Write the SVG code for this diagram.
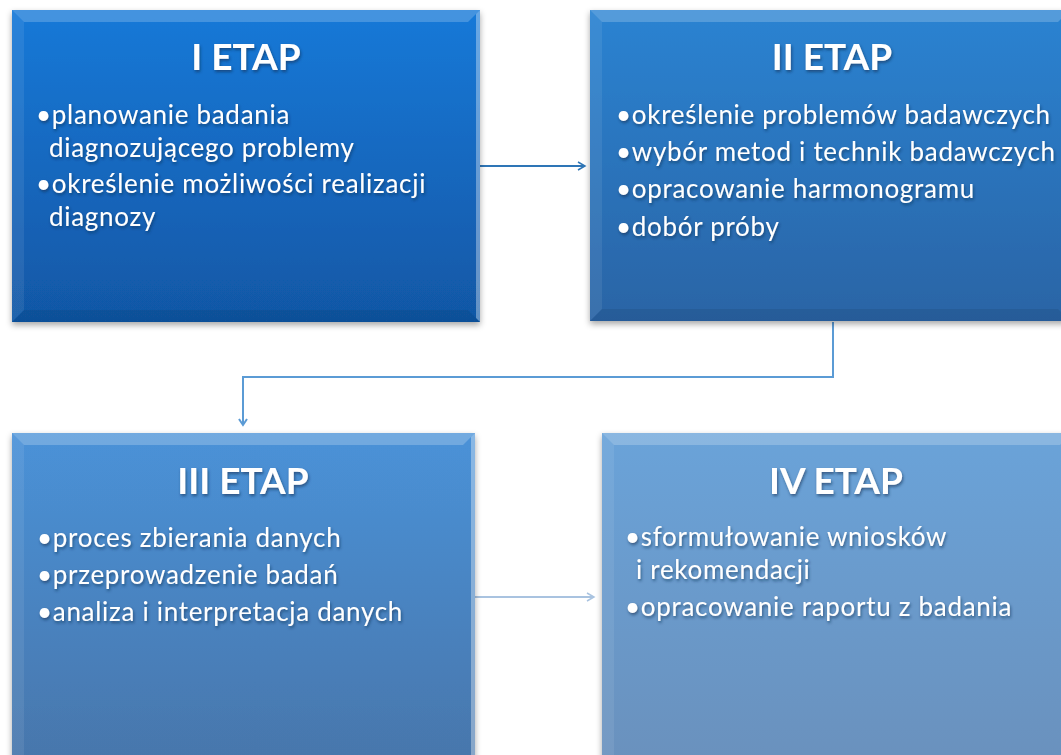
<svg xmlns="http://www.w3.org/2000/svg" width="1061" height="755" viewBox="0 0 1061 755">
<style>
.t{font-family:Lato,"Open Sans","Liberation Sans",sans-serif;fill:#fff;}
.h{font-size:37px;font-weight:bold;text-anchor:middle;}
.i{font-size:26px;letter-spacing:0.7px;}
.c{fill:none;stroke-width:2;}
</style>
<defs>
<linearGradient id="g1" x1="0" y1="0" x2="0" y2="1"><stop offset="0" stop-color="#1879D8"/><stop offset="1" stop-color="#1157A5"/></linearGradient>
<linearGradient id="g2" x1="0" y1="0" x2="0" y2="1"><stop offset="0" stop-color="#2C83D2"/><stop offset="1" stop-color="#2A64A5"/></linearGradient>
<linearGradient id="g3" x1="0" y1="0" x2="0" y2="1"><stop offset="0" stop-color="#4B92D8"/><stop offset="1" stop-color="#4776AB"/></linearGradient>
<linearGradient id="g4" x1="0" y1="0" x2="0" y2="1"><stop offset="0" stop-color="#6BA3D9"/><stop offset="1" stop-color="#6A91BD"/></linearGradient>
<filter id="sh" x="-5%" y="-5%" width="110%" height="115%"><feDropShadow dx="0" dy="3" stdDeviation="3" flood-color="#000" flood-opacity="0.35"/></filter>
<filter id="ts" x="-5%" y="-20%" width="110%" height="150%"><feDropShadow dx="1" dy="2" stdDeviation="1.5" flood-color="#0a2a50" flood-opacity="0.6"/></filter>
<marker id="a1" markerWidth="10" markerHeight="10" refX="8" refY="5" orient="auto" markerUnits="userSpaceOnUse"><path d="M1,1 L8,5 L1,9" fill="none" stroke="#2E75B6" stroke-width="1.5"/></marker>
<marker id="a2" markerWidth="12" markerHeight="12" refX="6" refY="10" orient="0" markerUnits="userSpaceOnUse"><path d="M2,4 L6,10 L10,4" fill="none" stroke="#5B9BD5" stroke-width="2"/></marker>
<marker id="a3" markerWidth="10" markerHeight="10" refX="8" refY="5" orient="auto" markerUnits="userSpaceOnUse"><path d="M1,1 L8,5 L1,9" fill="none" stroke="#A9C3E0" stroke-width="1.5"/></marker>
</defs>
<rect width="1061" height="755" fill="#fff"/>

<g id="connectors">
<line class="c" x1="480" y1="166" x2="585" y2="166" stroke="#2E75B6" marker-end="url(#a1)"/>
<polyline class="c" points="833,322 833,377 243,377 243,425" stroke="#5B9BD5" marker-end="url(#a2)"/>
<line class="c" x1="475" y1="597" x2="594" y2="597" stroke="#A9C3E0" marker-end="url(#a3)"/>
</g>

<g id="node1">
<rect x="12" y="10" width="468" height="312" fill="url(#g1)" filter="url(#sh)"/>
<polygon points="12,10 480,10 468,22 24,22" fill="#fff" opacity="0.2"/>
<polygon points="12,10 24,22 24,310 12,322" fill="#fff" opacity="0.08"/>
<polygon points="480,10 480,322 476,318 476,14" fill="#fff" opacity="0.35"/>
<polygon points="12,322 480,322 468,310 24,310" fill="#000" opacity="0.08"/>
<g class="t" filter="url(#ts)">
<text class="h" x="246" y="70">I ETAP</text>
<text class="i" x="36" y="124">•planowanie badania</text>
<text class="i" x="49" y="157">diagnozującego problemy</text>
<text class="i" x="36" y="193">•określenie możliwości realizacji</text>
<text class="i" x="49" y="226">diagnozy</text>
</g>
</g>

<g id="node2">
<rect x="590" y="10" width="480" height="311" fill="url(#g2)" filter="url(#sh)"/>
<polygon points="590,10 1070,10 1058,22 602,22" fill="#fff" opacity="0.2"/>
<polygon points="590,10 602,22 602,309 590,321" fill="#fff" opacity="0.08"/>
<polygon points="590,321 1070,321 1058,309 602,309" fill="#000" opacity="0.08"/>
<g class="t" filter="url(#ts)">
<text class="h" x="832" y="70">II ETAP</text>
<text class="i" x="616" y="124">•określenie problemów badawczych</text>
<text class="i" x="616" y="161">•wybór metod i technik badawczych</text>
<text class="i" x="616" y="198">•opracowanie harmonogramu</text>
<text class="i" x="616" y="236">•dobór próby</text>
</g>
</g>

<g id="node3">
<rect x="12" y="433" width="463" height="330" fill="url(#g3)" filter="url(#sh)"/>
<polygon points="12,433 475,433 463,445 24,445" fill="#fff" opacity="0.22"/>
<polygon points="12,433 24,445 24,763 12,763" fill="#fff" opacity="0.08"/>
<polygon points="475,433 475,763 471,763 471,437" fill="#fff" opacity="0.35"/>
<g class="t" filter="url(#ts)">
<text class="h" x="243" y="494">III ETAP</text>
<text class="i" x="37" y="547">•proces zbierania danych</text>
<text class="i" x="37" y="584">•przeprowadzenie badań</text>
<text class="i" x="37" y="621">•analiza i interpretacja danych</text>
</g>
</g>

<g id="node4">
<rect x="602" y="433" width="470" height="330" fill="url(#g4)" filter="url(#sh)"/>
<polygon points="602,433 1072,433 1060,445 614,445" fill="#fff" opacity="0.22"/>
<polygon points="602,433 614,445 614,763 602,763" fill="#fff" opacity="0.08"/>
<g class="t" filter="url(#ts)">
<text class="h" x="836" y="494">IV ETAP</text>
<text class="i" x="625" y="546">•sformułowanie wniosków</text>
<text class="i" x="636" y="579">i rekomendacji</text>
<text class="i" x="625" y="616">•opracowanie raportu z badania</text>
</g>
</g>
</svg>
